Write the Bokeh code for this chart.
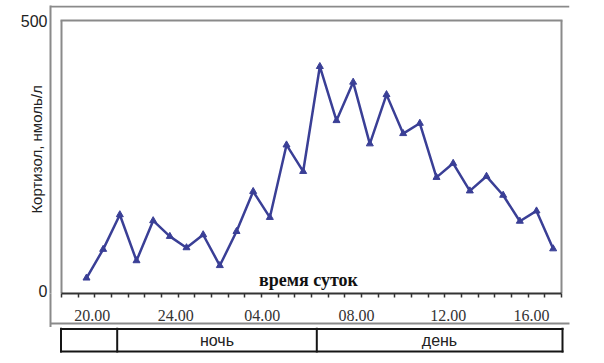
from bokeh.plotting import figure
from bokeh.layouts import column
from bokeh.models import FixedTicker, LinearAxis, Range1d
from bokeh.core.properties import value
from bokeh.embed import file_html
from bokeh.resources import INLINE

# ---- data ----
sample_index = list(range(1, 30))
cortisol = [24, 77, 141, 56, 130, 101, 80, 104, 47, 110,
            184, 136, 270, 221, 415, 315, 386, 272, 363, 291,
            310, 210, 236, 185, 212, 177, 129, 148, 78]
time_labels = ["20.00", "24.00", "04.00", "08.00", "12.00", "16.00"]
time_label_pos = [1.35, 6.35, 11.55, 17.2, 22.7, 27.7]
y_tick_values = [0, 500]
y_title = "Кортизол, нмоль/л"
x_title = "время суток"
period_labels = ["ночь", "день"]

# ---- layout (page pixels) ----
W = 596
H_MAIN = 327
FRAME_L, FRAME_R, FRAME_T, FRAME_B = 50, 569, 5, 293   # bokeh frame (includes outer gray frame)
IN_L, IN_R, IN_T = 61, 561, 20                          # inner plot box
Y0_PX, Y500_PX = 290.5, 20.0
XK = 30.0 / (IN_R - IN_L)            # slots per pixel
YK = 500.0 / (Y0_PX - Y500_PX)       # value per pixel


def dx(px):
    return -0.5 + (px - IN_L) * XK


def dy(py):
    return (Y0_PX - py) * YK


gray = "#8a8a8a"
dark = "#333333"
black = "#151515"
line_col = "#3a3f96"

p = figure(width=W, height=H_MAIN, output_backend="svg", toolbar_location=None,
           x_range=Range1d(dx(FRAME_L), dx(FRAME_R)), y_range=Range1d(dy(FRAME_B), dy(FRAME_T)),
           min_border_left=FRAME_L, min_border_right=W - FRAME_R,
           min_border_top=FRAME_T, min_border_bottom=H_MAIN - FRAME_B)
p.grid.visible = False
p.outline_line_color = None
p.background_fill_color = "white"
p.border_fill_color = "white"

# inner box (left, top, right) and outer top line
p.segment(x0=[dx(IN_L), dx(IN_L - 1), dx(IN_R), dx(FRAME_L - 1)],
          y0=[dy(FRAME_B), dy(IN_T), dy(FRAME_B), dy(6)],
          x1=[dx(IN_L), dx(IN_R + 1), dx(IN_R), dx(FRAME_R)],
          y1=[dy(IN_T), dy(IN_T), dy(IN_T), dy(6)],
          line_color=gray, line_width=2)

# data
p.line(sample_index, cortisol, line_color=line_col, line_width=2.5)
p.scatter(sample_index, cortisol, marker="triangle", size=7, color=line_col)
p.text(x=[dx(308)], y=[dy(279)], text=[x_title], text_align="center", text_baseline="middle",
       text_font=value("Liberation Serif"), text_font_size=value("18px"),
       text_font_style="bold", text_color="#111111")

# x axis
xa = p.xaxis[0]
xa.bounds = (-0.5, 29.5)
xa.ticker = FixedTicker(ticks=time_label_pos, minor_ticks=[k - 0.5 for k in range(31)])
xa.major_label_overrides = {pos: lab for pos, lab in zip(time_label_pos, time_labels)}
xa.major_tick_line_color = None
xa.major_tick_out = 4
xa.major_tick_in = 0
xa.minor_tick_out = 4
xa.minor_tick_in = 0
xa.minor_tick_line_color = dark
xa.minor_tick_line_width = 1.5
xa.axis_line_color = dark
xa.axis_line_width = 2
xa.major_label_standoff = 12
xa.major_label_text_font = "Liberation Serif"
xa.major_label_text_font_size = "16px"
xa.major_label_text_color = dark

# zero-size helper axis: continues the outer gray left line below the plot
xb = LinearAxis(ticker=FixedTicker(ticks=[dx(FRAME_L + 0.2)], minor_ticks=[]),
                axis_line_color=None, major_tick_line_color=gray, major_tick_line_width=2,
                major_tick_out=0, major_tick_in=-(H_MAIN - FRAME_B), minor_tick_line_color=None,
                major_label_text_font_size="0px", major_label_standoff=0)
xb.major_label_overrides = {dx(FRAME_L + 0.2): ""}

# helper axis below the tick labels: its line is the outer gray bottom line
xc = LinearAxis(ticker=FixedTicker(ticks=[], minor_ticks=[]),
                axis_line_color=gray, axis_line_width=2,
                major_tick_line_color=None, minor_tick_line_color=None,
                major_tick_out=0, major_tick_in=0, minor_tick_out=0, minor_tick_in=0,
                major_label_text_font_size="0px", major_label_standoff=0)
p.below = [xb, xa, xc]

# y axis (its axis line is the outer gray left line)
ya = p.yaxis[0]
ya.ticker = FixedTicker(ticks=y_tick_values, minor_ticks=[])
ya.axis_line_color = gray
ya.axis_line_width = 2
ya.major_tick_line_color = None
ya.minor_tick_line_color = None
ya.major_tick_out = 0
ya.major_tick_in = 0
ya.major_label_standoff = 3
ya.major_label_text_font = "Liberation Sans"
ya.major_label_text_font_size = "16px"
ya.major_label_text_color = "#222222"
ya.axis_label = y_title
ya.axis_label_standoff = -27
ya.axis_label_text_font = "Liberation Sans"
ya.axis_label_text_font_size = "15px"
ya.axis_label_text_font_style = "normal"
ya.axis_label_text_color = "#222222"

# ---- bottom strip: day/night table (page-pixel ranges) ----
H_TAB = 355 - H_MAIN
pt = figure(width=W, height=H_TAB, output_backend="svg", toolbar_location=None,
            x_range=Range1d(FRAME_L, FRAME_R), y_range=Range1d(355, H_MAIN),
            x_axis_location=None, y_axis_location=None,
            min_border_left=FRAME_L, min_border_right=W - FRAME_R, min_border_top=0, min_border_bottom=0)
pt.grid.visible = False
pt.outline_line_color = None
pt.background_fill_color = "white"
pt.border_fill_color = "white"

pt.segment(x0=[59.5, 59.5, 60.5, 116.7, 316.3, 562],
           y0=[328.5, 351, 327, 327, 327, 327],
           x1=[563, 563, 60.5, 116.7, 316.3, 562],
           y1=[328.5, 351, 352, 352, 352, 352],
           line_color=black, line_width=2)
pt.text(x=[216.5, 439], y=[340, 340], text=period_labels, text_align="center", text_baseline="middle",
        text_font=value("Liberation Sans"), text_font_size=value("16px"), text_color="#222222")

layout = column(p, pt, spacing=0)
open("out.html", "w").write(file_html(layout, INLINE))
